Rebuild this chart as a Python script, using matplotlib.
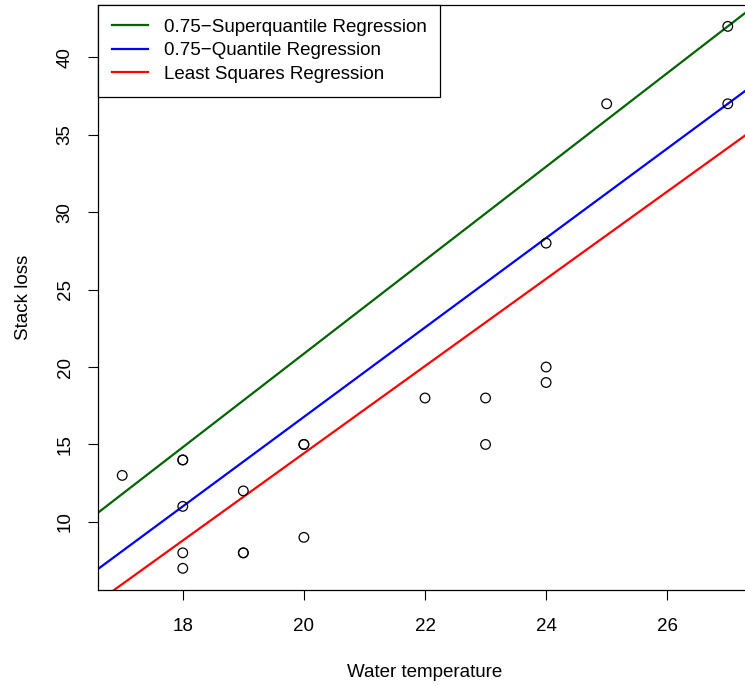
import matplotlib
matplotlib.use("Agg")
import matplotlib.pyplot as plt
import numpy as np

plt.rcParams['font.family'] = ['Liberation Sans', 'DejaVu Sans']

water_temp = [27, 27, 25, 24, 22, 23, 24, 24, 23, 18, 18, 17, 18, 19, 18, 18, 19, 19, 20, 20, 20]
stack_loss = [42, 37, 37, 28, 18, 18, 19, 20, 15, 14, 14, 13, 11, 12, 8, 7, 8, 8, 9, 15, 15]

line_labels = ["0.75\u2212Superquantile Regression", "0.75\u2212Quantile Regression", "Least Squares Regression"]
line_intercepts = [-39.54, -41.0, -41.911]
line_slopes = [3.02, 2.8889, 2.817]
line_colors = ["#006400", "#0000FF", "#FF0000"]

xticks = [18, 20, 22, 24, 26]
yticks = [10, 15, 20, 25, 30, 35, 40]

fs = 13.5
fig = plt.figure(figsize=(7.45, 6.86), dpi=100)
ax = fig.add_axes([98/745, 96/686, (752-98)/745, (590-4.7)/686])
ax.set_xlim(16.6, 27.4)
ax.set_ylim(5.6, 43.4)

ax.scatter(water_temp, stack_loss, s=48, facecolors='none', edgecolors='black', linewidths=0.9, zorder=3)

xx = np.array([16.6, 27.4])
for lab, a, b, c in zip(line_labels, line_intercepts, line_slopes, line_colors):
    ax.plot(xx, a + b * xx, color=c, lw=1.6, label=lab)

ax.set_xticks(xticks)
ax.set_yticks(yticks)
ax.set_yticklabels([str(v) for v in yticks], rotation=90, va='center')
ax.tick_params(axis='both', length=7.5, width=0.8, labelsize=fs, color='black')
ax.tick_params(axis='x', pad=12.5)
ax.tick_params(axis='y', pad=10)
for s in ax.spines.values():
    s.set_linewidth(0.9)

ax.set_xlabel("Water temperature", fontsize=fs, labelpad=21)
ax.set_ylabel("Stack loss", fontsize=fs, labelpad=18)

leg = ax.legend(loc='upper left', borderaxespad=0, fancybox=False, edgecolor='black',
                framealpha=1, fontsize=fs, handlelength=1.92, handletextpad=0.85,
                labelspacing=0.35, borderpad=0.73)
leg.get_frame().set_linewidth(0.9)

fig.savefig("out.png", dpi=100)
